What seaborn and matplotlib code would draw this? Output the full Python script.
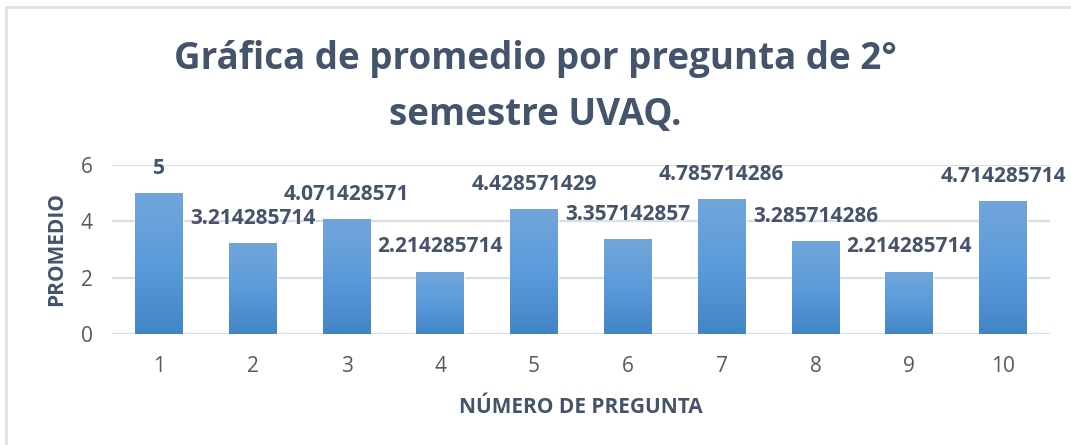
import numpy as np
import pandas as pd
import matplotlib
matplotlib.use("Agg")
import matplotlib.pyplot as plt
import seaborn as sns
from matplotlib.colors import LinearSegmentedColormap
from matplotlib.lines import Line2D

preguntas = ["1", "2", "3", "4", "5", "6", "7", "8", "9", "10"]
promedios = [5, 3.214285714, 4.071428571, 2.214285714, 4.428571429,
             3.357142857, 4.785714286, 3.285714286, 2.214285714, 4.714285714]
etiquetas = ["5", "3.214285714", "4.071428571", "2.214285714", "4.428571429",
             "3.357142857", "4.785714286", "3.285714286", "2.214285714", "4.714285714"]
yticks = [0, 2, 4, 6]

titulo = "Gráfica de promedio por pregunta de 2°\nsemestre UVAQ."
xlabel = "NÚMERO DE PREGUNTA"
ylabel = "PROMEDIO"

TEXT = "#44546a"
TICK = "#595959"
GRID = "#d9dde4"

sns.set_theme(style="white")
plt.rcParams["font.family"] = ["Open Sans", "DejaVu Sans"]

df = pd.DataFrame({"pregunta": preguntas, "promedio": promedios})

fig = plt.figure(figsize=(10.71, 4.45), dpi=100)
ax = fig.add_axes([112 / 1071, 1 - 334 / 445, (1050 - 112) / 1071, (334 - 165) / 445])

sns.barplot(data=df, x="pregunta", y="promedio", color="#5b9bd5",
            width=0.51, ax=ax, zorder=3)

ax.set_yticks(yticks)
ax.grid(axis="y", color=GRID, linewidth=1.6, zorder=0)
for s in ax.spines.values():
    s.set_visible(False)

# vertical gradient fill for each bar (lighter at top)
cmap = LinearSegmentedColormap.from_list("barra", ["#4285c6", "#5b9bdb", "#72a6da"])
grad = np.linspace(0, 1, 256).reshape(-1, 1)
for bar in ax.patches:
    x0, y0 = bar.get_x(), bar.get_y()
    w, h = bar.get_width(), bar.get_height()
    im = ax.imshow(grad, cmap=cmap, origin="lower", aspect="auto",
                   extent=[x0, x0 + w, y0, y0 + h], zorder=4)
    im.set_clip_path(bar)
    bar.set_facecolor("none")
ax.set_xlim(-0.5, len(preguntas) - 0.5)
ax.set_ylim(0, 6)

# value labels above bars
for bar, lab in zip(ax.patches, etiquetas):
    ax.annotate(lab, (bar.get_x() + bar.get_width() / 2, bar.get_height()),
                xytext=(0, 18), textcoords="offset points", ha="center", va="center",
                fontsize=15, fontweight="bold", color=TEXT, zorder=5,
                annotation_clip=False)

ax.tick_params(axis="both", length=0, labelsize=15, labelcolor=TICK)
ax.tick_params(axis="x", pad=16)
ax.tick_params(axis="y", pad=14)
ax.set_xlabel(xlabel, fontsize=15, fontweight="bold", color=TEXT, labelpad=14)
ax.set_ylabel(ylabel, fontsize=15, fontweight="bold", color=TEXT, labelpad=10)

fig.text(0.5, 1 - 87 / 445, titulo, ha="center", va="center", fontsize=26.5,
         fontweight="bold", color=TEXT, linespacing=1.6)

# chart frame edges
fig.add_artist(Line2D([6 / 1071, 6 / 1071], [0, 1 - 7 / 445], transform=fig.transFigure,
                      color="#dde2ea", linewidth=2))
fig.add_artist(Line2D([6 / 1071, 1], [1 - 7 / 445, 1 - 7 / 445], transform=fig.transFigure,
                      color="#dde2ea", linewidth=2))

fig.savefig("out.png", dpi=100, facecolor="white")
